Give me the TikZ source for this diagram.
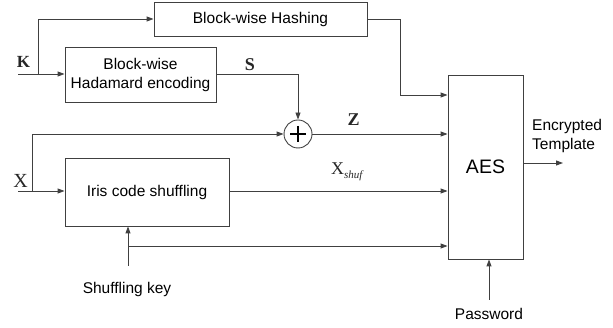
\documentclass[tikz,border=0pt]{standalone}
\usepackage{fontspec}
\setmainfont{Liberation Sans}
\newfontfamily\tnr{Liberation Serif}
\usetikzlibrary{arrows.meta,calc}
\begin{document}
\begin{tikzpicture}[x=1pt,y=-1pt,
  ln/.style={line width=0.9pt,draw=black!75},
  arr/.style={ln,-{Triangle[length=7pt,width=5pt]}},
  blk/.style={ln,rectangle,inner sep=0pt,font=\fontsize{15.5}{19}\selectfont,align=center},
  lbl/.style={inner sep=0pt,text=black!85},
  txt/.style={inner sep=0pt,font=\fontsize{15.5}{19}\selectfont,align=left}]
\useasboundingbox (0,0) rectangle (613,328);
% boxes
\node[blk,minimum width=213pt,minimum height=34pt] (hash) at (260.5,19) {Block-wise Hashing};
\node[blk,minimum width=151pt,minimum height=55pt] (had) at (140.5,74.5) {Block-wise\\Hadamard encoding};
\node[blk,minimum width=164pt,minimum height=68pt] (iris) at (147,192) {Iris code shuffling};
\node[blk,minimum width=75pt,minimum height=184pt,font=\fontsize{19.5}{22}\selectfont] (aes) at (485.5,167) {AES};
\node[ln,circle,minimum size=28pt,inner sep=0pt] (xor) at (298,134) {};
\draw[line width=2pt,black] ($(xor.center)+(-8,0)$) -- ($(xor.center)+(8,0)$) ($(xor.center)+(0,-8)$) -- ($(xor.center)+(0,8)$);
% input coordinates
\coordinate (kin) at (18,74);
\coordinate (kb) at (38,74);
\coordinate (xin) at (18,191);
\coordinate (xb) at (32,191);
\coordinate (skin) at (128,266);
\coordinate (skb) at (128,246);
\coordinate (pwin) at (489,300);
\coordinate (out) at (563,163);
% labels
\node[lbl,font=\tnr\bfseries\fontsize{17}{17}\selectfont] (klbl) at (23.5,62) {K};
\node[lbl,font=\tnr\bfseries\fontsize{18}{18}\selectfont] (slbl) at (250,65) {S};
\node[lbl,font=\tnr\bfseries\fontsize{18}{18}\selectfont] (zlbl) at (353.5,120) {Z};
\node[lbl,font=\tnr\fontsize{20}{20}\selectfont] (xlbl) at (20.5,181) {X};
\node[lbl,font=\tnr\fontsize{18}{18}\selectfont,anchor=base west] (xs) at (331,175) {X\raisebox{-4pt}{\fontsize{11}{11}\selectfont\itshape shuf}};
\node[txt,anchor=north west] (enc) at (532,119) {Encrypted\\Template};
\node[txt] (skey) at (127,289) {Shuffling key};
\node[txt] (pw) at (489,314) {Password};
% connectors
\draw[arr] (kin) -- (had.west |- kin);
\draw[arr] (kb) |- (hash.west);
\draw[arr] (had.east |- kin) -| (xor.north);
\draw[arr] (hash.east) -| (400,95) -- (aes.west |- 0,95);
\draw[arr] (xor.east) -- (aes.west |- xor.east);
\draw[arr] (xin) -- (iris.west |- xin);
\draw[arr] (xb) |- (xor.west);
\draw[arr] (iris.east |- xin) -- (aes.west |- xin);
\draw[arr] (skin) -- (iris.south -| skin);
\draw[arr] (skb) -- (aes.west |- skb);
\draw[arr] (pwin) -- (aes.south -| pwin);
\draw[arr] (aes.east |- out) -- (out);
\end{tikzpicture}
\end{document}
